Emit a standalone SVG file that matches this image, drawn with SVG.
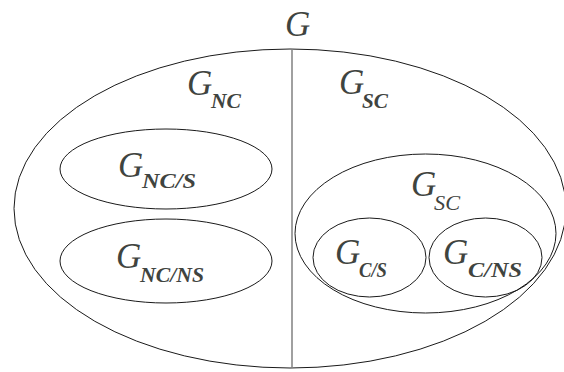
<svg xmlns="http://www.w3.org/2000/svg" width="564" height="372" viewBox="0 0 564 372">
<style>
.e{fill:none;stroke:#1a1a1a;stroke-width:1}
.div{stroke:#808080;stroke-width:1.5}
.g{font-family:"Liberation Serif","Times New Roman",serif;font-style:italic;font-size:35px;fill:#3f443f}
.s{font-family:"Liberation Serif","Times New Roman",serif;font-style:italic;font-weight:bold;font-size:20px;fill:#3f443f}
.sn{font-family:"Liberation Serif","Times New Roman",serif;font-style:italic;font-size:20px;fill:#3f443f}
</style>
<rect width="564" height="372" fill="#fff"/>
<g id="G">
<ellipse class="e" cx="290" cy="208.5" rx="276" ry="159.5"/>
<text class="g" x="285" y="36">G</text>
</g>
<g id="connectors">
<line class="div" x1="292" y1="49" x2="292" y2="368"/>
</g>
<g id="G_NC">
<text class="g" x="187" y="95">G</text>
<text class="s" x="211" y="108" textLength="30" lengthAdjust="spacingAndGlyphs">NC</text>
</g>
<g id="G_SC_top">
<text class="g" x="339" y="94">G</text>
<text class="s" x="362" y="108" textLength="26" lengthAdjust="spacingAndGlyphs">SC</text>
</g>
<g id="G_NC_S">
<ellipse class="e" cx="166" cy="169" rx="106" ry="40"/>
<text class="g" x="118" y="177">G</text>
<text class="s" x="142" y="188" textLength="54" lengthAdjust="spacingAndGlyphs">NC/S</text>
</g>
<g id="G_NC_NS">
<ellipse class="e" cx="166" cy="261" rx="106" ry="42"/>
<text class="g" x="116" y="268">G</text>
<text class="s" x="140" y="282" textLength="64" lengthAdjust="spacingAndGlyphs">NC/NS</text>
</g>
<g id="G_SC">
<ellipse class="e" cx="425.5" cy="233.5" rx="130.5" ry="79.5"/>
<text class="g" x="411" y="196">G</text>
<text class="sn" x="434" y="210" textLength="26" lengthAdjust="spacingAndGlyphs">SC</text>
</g>
<g id="G_C_S">
<ellipse class="e" cx="369.5" cy="257.5" rx="56.5" ry="39.5"/>
<text class="g" x="335" y="264">G</text>
<text class="s" x="359" y="277" textLength="28" lengthAdjust="spacingAndGlyphs">C/S</text>
</g>
<g id="G_C_NS">
<ellipse class="e" cx="485.5" cy="257.5" rx="56.5" ry="39.5"/>
<text class="g" x="443" y="264">G</text>
<text class="s" x="468" y="277" textLength="54" lengthAdjust="spacingAndGlyphs">C/NS</text>
</g>
</svg>
